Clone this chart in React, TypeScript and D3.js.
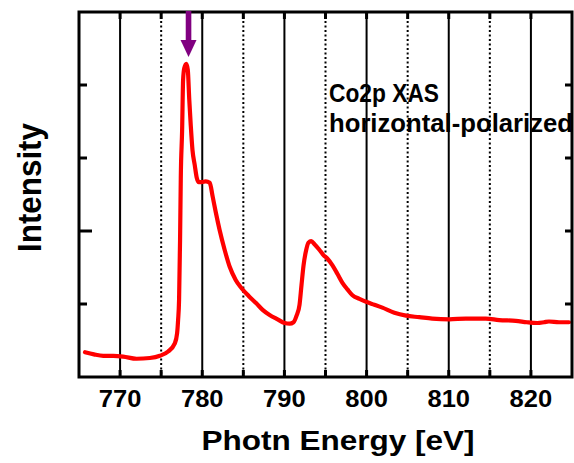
import React from "react";
import * as d3 from "d3";

// Co 2p XAS spectrum, horizontal polarization
const energy = [
  765.73, 766.82, 767.95, 769.17, 770.38, 772.01, 773.62, 774.84, 775.85, 776.66,
  776.94, 777.06, 777.18, 777.30, 777.39, 777.55, 777.67, 777.81, 778.06, 778.24,
  778.42, 778.60, 778.81, 779.09, 779.33, 779.57, 779.94, 780.42, 780.91, 781.27,
  781.64, 782.12, 782.73, 783.34, 784.07, 784.76, 785.65, 786.58, 787.35, 788.20,
  789.17, 790.02, 790.63, 791.11, 791.48, 791.84, 792.08, 792.33, 792.65, 792.93,
  793.26, 793.66, 794.27, 794.75, 795.24, 795.85, 796.46, 797.06, 797.67, 798.28,
  799.13, 799.94, 800.95, 801.92, 803.38, 804.80, 806.41, 807.99, 810.06, 812.08,
  814.51, 816.13, 818.16, 819.53, 820.78, 821.59, 822.20, 823.42, 824.63,
];
const intensity = [
  0.34, 0.31, 0.29, 0.29, 0.28, 0.25, 0.26, 0.29, 0.35, 0.46,
  0.60, 0.78, 1.06, 1.88, 2.74, 3.38, 4.07, 4.23, 4.29, 4.21,
  3.80, 3.45, 3.11, 2.90, 2.73, 2.67, 2.67, 2.68, 2.66, 2.47,
  2.26, 2.01, 1.74, 1.51, 1.33, 1.22, 1.11, 1.01, 0.92, 0.85,
  0.79, 0.74, 0.73, 0.75, 0.84, 0.99, 1.26, 1.53, 1.74, 1.84,
  1.86, 1.82, 1.74, 1.67, 1.62, 1.53, 1.41, 1.29, 1.20, 1.12,
  1.07, 1.03, 0.99, 0.95, 0.88, 0.84, 0.82, 0.80, 0.79, 0.80,
  0.80, 0.78, 0.77, 0.75, 0.74, 0.75, 0.76, 0.75, 0.75,
];

const xTickLabels = [770, 780, 790, 800, 810, 820];
const solidGrid = [770, 780, 790, 800, 810, 820];
const dottedGrid = [775, 785, 795, 805, 815];
const yTicks = [1, 2, 3, 4];
const peakMarker = [778.33];
const titleLines = ["Co2p XAS", "horizontal-polarized"];
const titleWidths = [110, 244];

const W = 574;
const H = 463;
const left = 79;
const right = 572;
const top = 12;
const bottom = 377;

export default function App() {
  const x = d3.scaleLinear().domain([765, 825]).range([left, right]);
  const y = d3.scaleLinear().domain([0, 5]).range([bottom, top]);
  const pts: [number, number][] = energy.map((e, i) => [e, intensity[i]]);
  const line = d3
    .line<[number, number]>()
    .x((d) => x(d[0]))
    .y((d) => y(d[1]))
    .curve(d3.curveMonotoneX);
  const font = "'Liberation Sans', Arial, sans-serif";
  const allMinor = d3.range(770, 825, 5);

  return (
    <svg
      width={W}
      height={H}
      style={{ position: "absolute", left: 0, top: 0, background: "#fff" }}
      fontFamily={font}
    >
      {solidGrid.map((v) => (
        <line key={"s" + v} x1={x(v)} x2={x(v)} y1={top} y2={bottom} stroke="#000" strokeWidth={2} />
      ))}
      {dottedGrid.map((v) => (
        <line
          key={"d" + v}
          x1={x(v)}
          x2={x(v)}
          y1={top}
          y2={bottom}
          stroke="#000"
          strokeWidth={2}
          strokeDasharray="2,2.5"
        />
      ))}
      {allMinor.map((v) => (
        <g key={"t" + v}>
          <line x1={x(v)} x2={x(v)} y1={bottom} y2={bottom - 7} stroke="#000" strokeWidth={3} />
          <line x1={x(v)} x2={x(v)} y1={top} y2={top + 7} stroke="#000" strokeWidth={3} />
        </g>
      ))}
      {yTicks.map((v) => (
        <g key={"y" + v}>
          <line x1={left} x2={left + (v === 2 ? 13 : 8)} y1={y(v)} y2={y(v)} stroke="#000" strokeWidth={3} />
          <line x1={right} x2={right - 7} y1={y(v)} y2={y(v)} stroke="#000" strokeWidth={3} />
        </g>
      ))}
      <path
        d={line(pts) || ""}
        fill="none"
        stroke="#ff0000"
        strokeWidth={4.2}
        strokeLinejoin="round"
        strokeLinecap="round"
      />
      <rect
        x={left}
        y={top}
        width={right - left}
        height={bottom - top}
        fill="none"
        stroke="#000"
        strokeWidth={3}
      />
      {peakMarker.map((v) => (
        <g key={"a" + v} fill="#800080">
          <rect x={x(v) - 2.8} y={top - 1} width={5.6} height={30} />
          <path d={`M${x(v) - 8},${top + 28} L${x(v) + 8},${top + 28} L${x(v)},${top + 45} Z`} />
        </g>
      ))}
      {xTickLabels.map((v) => (
        <text
          key={"l" + v}
          x={x(v)}
          y={407}
          textAnchor="middle"
          fontSize={24}
          fontWeight="bold"
          textLength={42.6}
          lengthAdjust="spacingAndGlyphs"
        >
          {v}
        </text>
      ))}
      <text
        x={338}
        y={450}
        textAnchor="middle"
        fontSize={27}
        fontWeight="bold"
        textLength={273}
        lengthAdjust="spacingAndGlyphs"
      >
        Photn Energy [eV]
      </text>
      <text
        transform="translate(41,187.5) rotate(-90)"
        textAnchor="middle"
        fontSize={33}
        fontWeight="bold"
        textLength={129}
        lengthAdjust="spacingAndGlyphs"
      >
        Intensity
      </text>
      {titleLines.map((t, i) => (
        <text
          key={t}
          x={329}
          y={101.5 + i * 30}
          fontSize={25.8}
          fontWeight="bold"
          textLength={titleWidths[i]}
          lengthAdjust="spacingAndGlyphs"
        >
          {t}
        </text>
      ))}
    </svg>
  );
}
